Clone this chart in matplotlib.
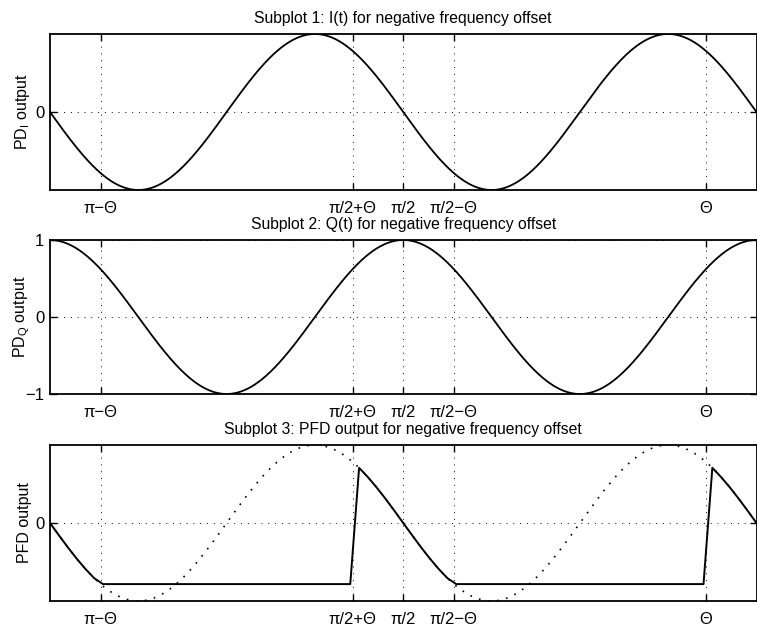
import matplotlib
matplotlib.use("Agg")
import matplotlib.pyplot as plt
import numpy as np

plt.rcParams["font.family"] = ["Liberation Sans", "DejaVu Sans"]
plt.rcParams["mathtext.default"] = "regular"

# phase offset and time axis (two full periods)
theta = 0.9
t_end = 4 * np.pi
n_samples = 81

tick_pos = [theta, 2 * np.pi - theta, 2 * np.pi, 2 * np.pi + theta, 4 * np.pi - theta]
tick_labels = ["π−Θ", "π/2+Θ", "π/2", "π/2−Θ", "Θ"]

titles = ["Subplot 1: I(t) for negative frequency offset",
          "Subplot 2: Q(t) for negative frequency offset",
          "Subplot 3: PFD output for negative frequency offset"]
ylabels = ["PD$_I$ output", "PD$_Q$ output", "PFD output"]
yticks = [[0], [-1, 0, 1], [0]]
ytick_labels = [["0"], ["−1", "0", "1"], ["0"]]

t = np.linspace(0, t_end, 800)
i_sig = -np.sin(t)
q_sig = np.cos(t)

# PFD: follows I(t) near the edges of each period, holds otherwise
tc = np.linspace(0, t_end, n_samples)
phase = np.mod(tc, 2 * np.pi)
hold = (phase >= theta) & (phase <= 2 * np.pi - theta)
pfd = np.where(hold, -np.sin(theta), -np.sin(tc))

fig = plt.figure(figsize=(7.57, 6.26), dpi=100)
W, H = 757, 626
boxes = [(34, 190), (240, 394), (445, 601)]
axes = []
for top, bot in boxes:
    ax = fig.add_axes([50 / W, 1 - bot / H, 706.5 / W, (bot - top) / H])
    axes.append(ax)

axes[0].plot(t, i_sig, color="black", lw=1.3)
axes[1].plot(t, q_sig, color="black", lw=1.3)
axes[2].plot(t, i_sig, color="black", lw=1.2, linestyle=(0, (1, 4.5)))
axes[2].plot(tc, pfd, color="black", lw=1.4)

for k, ax in enumerate(axes):
    ax.set_xlim(0, t_end)
    ax.set_ylim(-1, 1)
    ax.set_xticks(tick_pos)
    ax.set_xticklabels(tick_labels, fontsize=12)
    ax.set_yticks(yticks[k])
    ax.set_yticklabels(ytick_labels[k], fontsize=12)
    ax.tick_params(direction="in", length=5, width=1, top=True, right=True)
    ax.tick_params(axis="x", pad=8)
    ax.tick_params(axis="y", pad=4)
    ax.grid(True, color="black", linestyle=(0, (1, 6)), linewidth=0.7)
    for s in ax.spines.values():
        s.set_linewidth(1.3)
    ax.set_title(titles[k], fontsize=11.3, pad=8)
    ax.set_ylabel(ylabels[k], fontsize=11.5)
    ax.yaxis.set_label_coords(-0.026, 0.5)

fig.savefig("out.png", dpi=100)
